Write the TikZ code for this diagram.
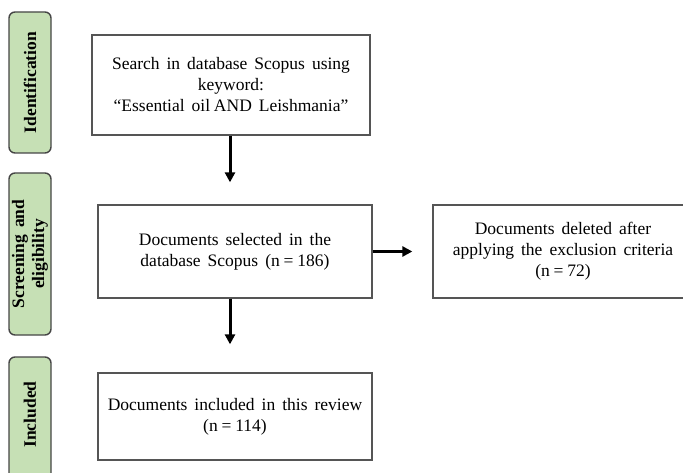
\documentclass[tikz,border=0pt]{standalone}
\usepackage{fontspec}
\setmainfont{Liberation Serif}
\usetikzlibrary{arrows.meta}
\definecolor{stagefill}{RGB}{198,224,181}
\definecolor{stageline}{RGB}{70,70,70}
\definecolor{boxline}{RGB}{85,85,85}
\newcommand{\boxfont}{\fontsize{17.5}{21}\selectfont\spaceskip=0.4em plus 0.1em\relax}
\newcommand{\stagefont}{\fontsize{17.5}{20}\selectfont\bfseries\spaceskip=0.4em plus 0.1em\relax}
% narrow space used around the equals sign and in "oil AND"
\newcommand{\nsp}{\hspace{0.22em}}
\tikzset{
  stage/.style={draw=stageline, line width=1.4pt, fill=stagefill, rounded corners=6pt,
    minimum width=42pt, inner sep=0pt},
  stagetext/.style={rotate=90, font=\stagefont, align=center},
  textbox/.style={draw=boxline, line width=1.3pt, fill=white, inner sep=0pt,
    align=center, font=\boxfont},
  flow/.style={line width=3pt, -{Triangle[width=10pt,length=10pt]}}
}
\begin{document}
\begin{tikzpicture}[x=1pt,y=-1pt]
\clip (0,0) rectangle (683,473);
\fill[white] (0,0) rectangle (683,473);

% stage labels on the left
\node[stage, minimum height=141pt] (s1) at (30,82.5) {};
\node[stagetext] at (s1.center) {Identification};
\node[stage, minimum height=162pt] (s2) at (30,254) {};
\node[stagetext] at (s2.center) {Screening and\\eligibility};
\node[stage, minimum height=130pt] (s3) at (30,422) {};
\node[stagetext] at (30,414.5) {Included};

% flow boxes
\node[textbox, minimum width=278pt, minimum height=100pt] (b1) at (231,85)
  {Search in database Scopus using\\keyword:\\“Essential oil\nsp AND Leishmania”};
\node[textbox, minimum width=274pt, minimum height=93pt] (b2) at (235,251.5)
  {Documents selected in the\\database Scopus (n\nsp=\nsp186)};
\node[textbox, minimum width=260pt, minimum height=93pt] (b3) at (563,251.5)
  {Documents deleted after\\applying the exclusion criteria\\(n\nsp=\nsp72)};
\node[textbox, minimum width=274pt, minimum height=87pt] (b4) at (235,416.5)
  {Documents included in this review\\(n\nsp=\nsp114)};

% connectors
\draw[flow, shorten >=22pt] ([xshift=-1pt]b1.south) -- ([xshift=-5pt]b2.north);
\draw[flow, shorten >=28pt] ([xshift=-5pt]b2.south) -- ([xshift=-5pt]b4.north);
\draw[flow, shorten >=20pt] (b2.east) -- (b3.west);
\end{tikzpicture}
\end{document}
